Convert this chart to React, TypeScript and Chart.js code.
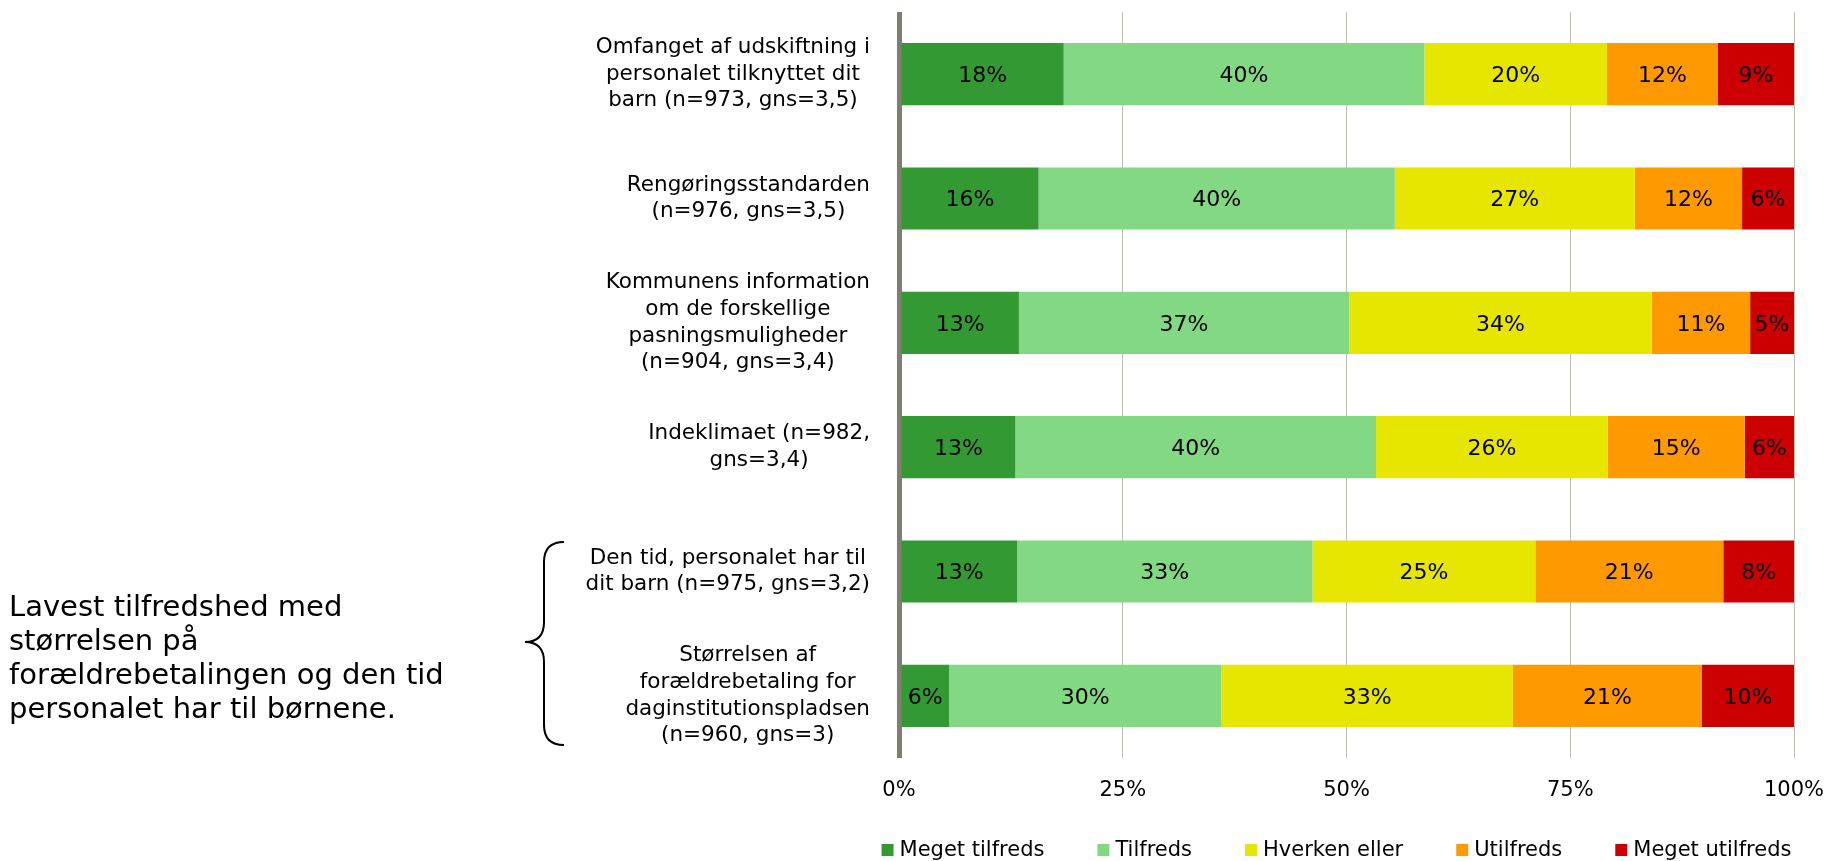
import React, { useEffect, useRef } from 'react';
import { Chart, registerables } from 'chart.js';

Chart.register(...registerables);

const categories: string[][] = [
  ['Omfanget af udskiftning i', 'personalet tilknyttet dit', 'barn (n=973, gns=3,5)'],
  ['Rengøringsstandarden', '(n=976, gns=3,5)'],
  ['Kommunens information', 'om de forskellige', 'pasningsmuligheder', '(n=904, gns=3,4)'],
  ['Indeklimaet (n=982,', 'gns=3,4)'],
  ['Den tid, personalet har til', 'dit barn (n=975, gns=3,2)'],
  ['Størrelsen af', 'forældrebetaling for', 'daginstitutionspladsen', '(n=960, gns=3)'],
];

const seriesNames = ['Meget tilfreds', 'Tilfreds', 'Hverken eller', 'Utilfreds', 'Meget utilfreds'];
const seriesColors = ['#339933', '#83d883', '#e6e600', '#ff9900', '#cc0000'];

const megetTilfreds = [18.4, 15.6, 13.4, 13.0, 13.2, 5.6];
const tilfreds = [40.3, 39.8, 36.9, 40.3, 33.0, 30.4];
const hverkenEller = [20.4, 26.8, 33.8, 25.9, 24.9, 32.6];
const utilfreds = [12.4, 12.0, 11.0, 15.3, 21.0, 21.1];
const megetUtilfreds = [8.5, 5.8, 4.9, 5.5, 7.9, 10.3];

const xTickValues = [0, 25, 50, 75, 100];

const noteLines = [
  'Lavest tilfredshed med',
  'størrelsen på',
  'forældrebetalingen og den tid',
  'personalet har til børnene.',
];

const FONT = '"DejaVu Sans", Verdana, sans-serif';

const catLabelPlugin = {
  id: 'catLabels',
  afterDraw(chart: any) {
    const ctx = chart.ctx;
    const yScale = chart.scales.y;
    const area = chart.chartArea;
    ctx.save();
    ctx.font = `21.5px ${FONT}`;
    ctx.fillStyle = '#000';
    ctx.textBaseline = 'middle';
    ctx.textAlign = 'center';
    const lh = 26.7;
    categories.forEach((lines, i) => {
      const y = yScale.getPixelForValue(i);
      const w = Math.max(...lines.map((l) => ctx.measureText(l).width));
      const right = area.left - 29;
      const cx = right - w / 2;
      const y0 = y - ((lines.length - 1) / 2) * lh;
      lines.forEach((l, j) => ctx.fillText(l, cx, y0 + j * lh));
    });
    ctx.restore();
  },
};

const dataLabelPlugin = {
  id: 'dataLabels',
  afterDatasetsDraw(chart: any) {
    const ctx = chart.ctx;
    ctx.save();
    ctx.font = `22px ${FONT}`;
    ctx.fillStyle = '#000';
    ctx.textBaseline = 'middle';
    ctx.textAlign = 'center';
    chart.data.datasets.forEach((ds: any, di: number) => {
      const meta = chart.getDatasetMeta(di);
      meta.data.forEach((el: any, i: number) => {
        const v = ds.data[i];
        const cx = (el.x + el.base) / 2;
        ctx.fillText(Math.round(v) + '%', cx, el.y + 2);
      });
    });
    ctx.restore();
  },
};

const legendPlugin = {
  id: 'customLegend',
  afterDraw(chart: any) {
    const ctx = chart.ctx;
    const area = chart.chartArea;
    ctx.save();
    ctx.font = `21px ${FONT}`;
    ctx.textBaseline = 'middle';
    ctx.textAlign = 'left';
    const box = 12;
    const gapText = 6;
    const gap = 53;
    const items = chart.data.datasets.map((ds: any) => ({
      label: ds.label,
      color: ds.backgroundColor,
      w: ctx.measureText(ds.label).width,
    }));
    const total = items.reduce((s: number, it: any) => s + box + gapText + it.w, 0) + gap * (items.length - 1);
    let x = (area.left + area.right) / 2 - total / 2 - 10;
    const y = 850;
    items.forEach((it: any) => {
      ctx.fillStyle = it.color;
      ctx.fillRect(x, y - box / 2, box, box);
      ctx.fillStyle = '#000';
      ctx.fillText(it.label, x + box + gapText, y + 1);
      x += box + gapText + it.w + gap;
    });
    ctx.restore();
  },
};

const notePlugin = {
  id: 'note',
  afterDraw(chart: any) {
    const ctx = chart.ctx;
    ctx.save();
    ctx.font = `29px ${FONT}`;
    ctx.fillStyle = '#000';
    ctx.textBaseline = 'middle';
    ctx.textAlign = 'left';
    noteLines.forEach((l, i) => ctx.fillText(l, 9, 608 + i * 34));
    ctx.strokeStyle = '#000';
    ctx.lineWidth = 2;
    ctx.beginPath();
    const top = 542, tip = 642, bot = 745, vx = 544, rx = 564, lx = 525;
    ctx.moveTo(rx, top);
    ctx.quadraticCurveTo(vx, top, vx, top + 20);
    ctx.lineTo(vx, tip - 20);
    ctx.quadraticCurveTo(vx, tip, lx, tip);
    ctx.quadraticCurveTo(vx, tip, vx, tip + 20);
    ctx.lineTo(vx, bot - 20);
    ctx.quadraticCurveTo(vx, bot, rx, bot);
    ctx.stroke();
    ctx.restore();
  },
};

export default function App() {
  const ref = useRef<HTMLCanvasElement | null>(null);
  useEffect(() => {
    document.body.style.margin = '0';
    if (!ref.current) return;
    const seriesData = [megetTilfreds, tilfreds, hverkenEller, utilfreds, megetUtilfreds];
    const chart = new Chart(ref.current, {
      type: 'bar',
      data: {
        labels: categories,
        datasets: seriesNames.map((name, i) => ({
          label: name,
          data: seriesData[i],
          backgroundColor: seriesColors[i],
          borderWidth: 0,
          barPercentage: 0.5,
          categoryPercentage: 1,
        })),
      },
      options: {
        indexAxis: 'y',
        animation: false,
        responsive: false,
        maintainAspectRatio: false,
        layout: { padding: { left: 899, right: 35, top: 12, bottom: 57 } },
        plugins: {
          legend: { display: false },
          tooltip: { enabled: false },
        },
        scales: {
          y: {
            stacked: true,
            display: false,
          },
          x: {
            stacked: true,
            min: 0,
            max: 100,
            afterBuildTicks: (axis: any) => {
              axis.ticks = xTickValues.map((v) => ({ value: v }));
            },
            afterFit: (axis: any) => {
              axis.paddingLeft = 0;
              axis.paddingRight = 0;
              axis.height = 46;
            },
            ticks: {
              callback: (v: any) => v + '%',
              color: '#000',
              font: { family: FONT, size: 21 },
              padding: 20,
              maxRotation: 0,
            },
            grid: {
              drawTicks: false,
              color: (c: any) => (c.tick && c.tick.value === 0 ? '#7f7f70' : '#c0c0b4'),
              lineWidth: (c: any) => (c.tick && c.tick.value === 0 ? 5 : 1),
            },
            border: { display: false },
          },
        },
      },
      plugins: [catLabelPlugin, dataLabelPlugin, legendPlugin, notePlugin],
    });
    return () => chart.destroy();
  }, []);
  return (
    <div style={{ width: 1829, height: 861 }}>
      <canvas ref={ref} width={1829} height={861} style={{ display: 'block' }} />
    </div>
  );
}
